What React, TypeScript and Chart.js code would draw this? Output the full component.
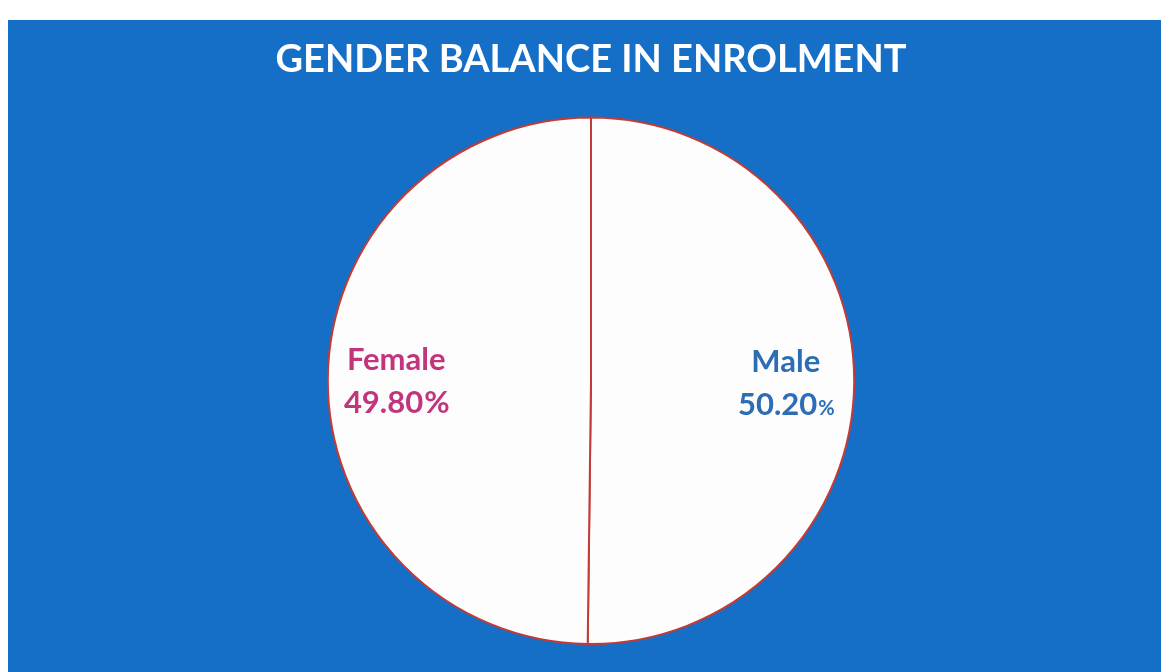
import React, { useEffect, useRef } from "react";
import { Chart, registerables } from "chart.js";

Chart.register(...registerables);

const titleText = "GENDER BALANCE IN ENROLMENT";
const categories = ["Male", "Female"];
const shares = [50.2, 49.8];
const shareLabels = ["50.20", "49.80"];
const labelColors = ["#2c6db4", "#c2357c"];

const sliceLabels = {
  id: "sliceLabels",
  afterDatasetsDraw(chart: any) {
    const ctx = chart.ctx;
    const meta = chart.getDatasetMeta(0);
    meta.data.forEach((arc: any, i: number) => {
      const { x, y, startAngle, endAngle, outerRadius } = arc.getProps(
        ["x", "y", "startAngle", "endAngle", "outerRadius"],
        true
      );
      const mid = (startAngle + endAngle) / 2;
      const cx = x + Math.cos(mid) * outerRadius * 0.74;
      const cy = y + Math.sin(mid) * outerRadius * 0.74;
      ctx.save();
      ctx.fillStyle = labelColors[i];
      ctx.textBaseline = "alphabetic";
      ctx.textAlign = "center";
      ctx.font = "bold 31px Lato";
      ctx.fillText(categories[i], cx, cy - 10);
      const num = shareLabels[i];
      const small = i === 0;
      const pctFont = small ? "bold 20px Lato" : "bold 31px Lato";
      ctx.font = "bold 31px Lato";
      const wNum = ctx.measureText(num).width;
      ctx.font = pctFont;
      const wPct = ctx.measureText("%").width;
      const start = cx - (wNum + wPct) / 2;
      ctx.textAlign = "left";
      ctx.font = "bold 31px Lato";
      ctx.fillText(num, start, cy + 33);
      ctx.font = pctFont;
      ctx.fillText("%", start + wNum + 1, cy + 33);
      ctx.restore();
    });
  },
};

export default function App() {
  const ref = useRef<HTMLCanvasElement | null>(null);
  useEffect(() => {
    if (!ref.current) return;
    const chart = new Chart(ref.current, {
      type: "pie",
      data: {
        labels: categories,
        datasets: [
          {
            data: shares,
            backgroundColor: ["#fdfdfd", "#fdfdfd"],
            borderColor: "#c43a35",
            borderWidth: 2,
          },
        ],
      },
      options: {
        animation: false,
        responsive: false,
        layout: { padding: { top: 0, bottom: 27, left: 13, right: 0 } },
        plugins: {
          legend: { display: false },
          tooltip: { enabled: false },
          title: {
            display: true,
            text: titleText,
            color: "#ffffff",
            font: { family: "Lato", size: 38, weight: "bold" },
            padding: { top: 17, bottom: 34 },
          },
        },
      },
      plugins: [sliceLabels],
    });
    return () => chart.destroy();
  }, []);
  return (
    <div
      style={{
        position: "fixed",
        left: 8,
        top: 20,
        width: 1153,
        height: 652,
        background: "#156fc6",
      }}
    >
      <canvas ref={ref} width={1153} height={652} style={{ display: "block" }} />
    </div>
  );
}
